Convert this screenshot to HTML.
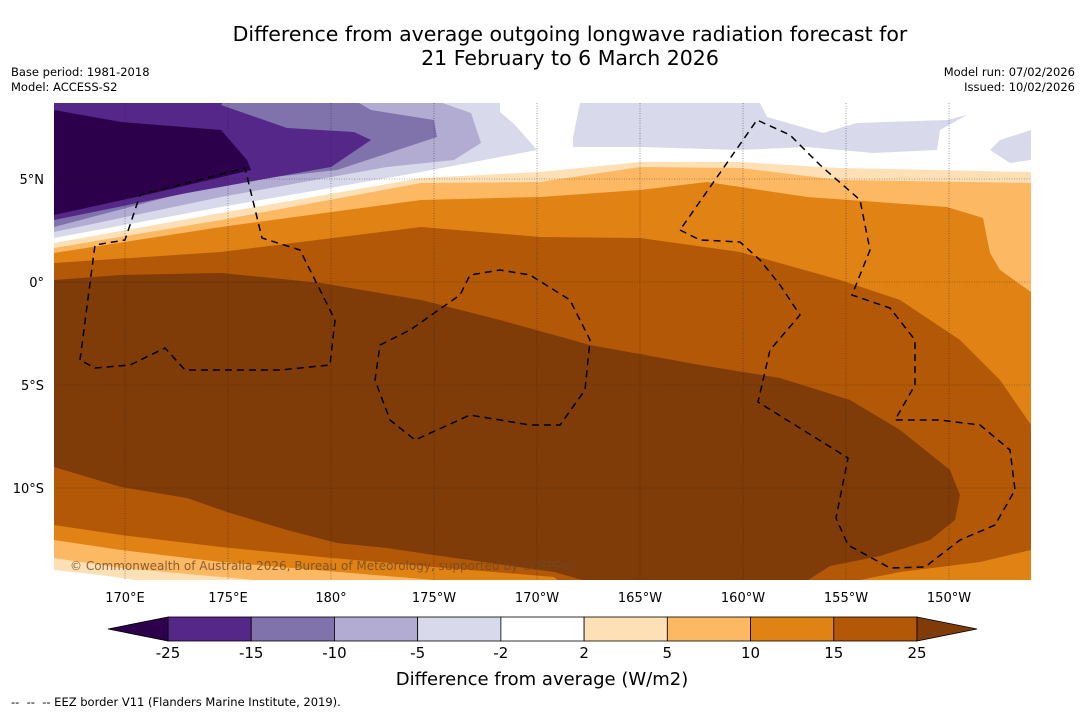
<!DOCTYPE html>
<html><head><meta charset="utf-8"><style>
body{margin:0;background:#fff;font-family:"DejaVu Sans","Liberation Sans",sans-serif;}
#root{position:relative;width:1085px;height:713px;overflow:hidden;background:#fff}
.t{position:absolute;white-space:nowrap;color:#000}
</style></head><body>
<div id="root">
<div class="t" style="left:0;width:1140px;text-align:center;top:22px;font-size:20.5px;line-height:24px">Difference from average outgoing longwave radiation forecast for<br>21 February to 6 March 2026</div>
<div class="t" style="left:11px;top:65px;font-size:11.5px;line-height:15px">Base period: 1981-2018<br>Model: ACCESS-S2</div>
<div class="t" style="right:10px;top:65px;font-size:11.5px;line-height:15px;text-align:right">Model run: 07/02/2026<br>Issued: 10/02/2026</div>
<div class="t" style="left:11px;top:695px;font-size:11.5px">--&nbsp; --&nbsp; -- EEZ border V11 (Flanders Marine Institute, 2019).</div>
<svg id="map" width="1085" height="713" style="position:absolute;left:0;top:0">
<defs><clipPath id="mc"><rect x="54" y="103" width="977" height="477"/></clipPath></defs>
<g clip-path="url(#mc)">
<rect x="54" y="103" width="977" height="477" fill="#b35806"/>
<path fill="#e08214" d="M54,100 L54,263 L221,252 L421,227 L540,237 L640,238 L740,252 L840,280 L900,300 L960,340 L1000,380 L1031,425 L1031,100Z"/>
<path fill="#fdb863" d="M54,100 L54,253 L221,227 L421,200 L540,197 L640,190 L707,182 L807,197 L947,207 L983,218 L990,253 L1000,270 L1031,292 L1031,100Z"/>
<path fill="#fee0b6" d="M54,100 L54,248 L221,220 L421,183 L540,182 L640,167 L740,168 L840,180 L1031,183 L1031,100Z"/>
<path fill="#ffffff" d="M54,100 L54,243 L221,213 L421,178 L540,172 L640,162 L740,162 L840,168 L1031,172 L1031,100Z"/>
<path fill="#d8daeb" d="M54,100 L54,238 L221,207 L421,172 L537,150 L515,125 L500,112 L500,100Z"/>
<path fill="#d8daeb" d="M580,103 L760,103 L767,117 L823,133 L857,123 L947,120 L967,115 L940,130 L937,150 L873,153 L807,147 L740,150 L640,147 L573,147 L573,137Z M990,150 L1000,140 L1031,130 L1031,160 L1010,163Z"/>
<path fill="#b2abd2" d="M54,100 L54,232 L221,197 L387,167 L454,160 L481,143 L471,113 L434,100Z"/>
<path fill="#8073ac" d="M54,100 L54,227 L221,183 L337,170 L437,137 L434,120 L371,110 L354,100Z"/>
<path fill="#542788" d="M54,100 L54,220 L187,193 L331,167 L371,140 L354,132 L287,128 L221,105 L224,100Z"/>
<path fill="#2d004b" d="M54,110 L121,122 L221,130 L247,160 L251,170 L154,193 L54,215Z"/>
<path fill="#7f3b08" d="M54,280 L121,275 L221,273 L321,283 L421,300 L500,320 L590,345 L700,365 L780,378 L850,400 L900,430 L950,470 L960,495 L955,520 L930,540 L880,556 L830,566 L805,582 L590,582 L554,572 L434,555 L387,548 L337,543 L287,530 L227,512 L187,498 L121,487 L54,467Z"/>
<path fill="#e08214" d="M54,525 L121,535 L221,547 L321,557 L434,567 L554,577 L560,582 L54,582Z M850,582 L900,572 L980,562 L1031,550 L1031,582Z"/>
<path fill="#fdb863" d="M54,540 L121,550 L221,562 L434,580 L434,582 L54,582Z"/>
<path fill="#fee0b6" d="M54,558 L121,568 L254,580 L254,582 L54,582Z"/>
<path fill="#ffffff" d="M54,570 L100,575 L150,582 L54,582Z"/>
</g>
<g id="grid" stroke="#222" stroke-width="0.6" stroke-dasharray="1,1.5" opacity="0.7"></g>
<g fill="none" stroke="#000" stroke-width="1.5" stroke-dasharray="7,5" clip-path="url(#mc)">
<path d="M80,360 L95,245 L125,240 L140,195 L245,168 L262,238 L300,250 L325,300 L335,320 L330,365 L280,370 L185,370 L165,348 L130,365 L95,368 Z"/>
<path d="M380,345 L410,330 L460,295 L470,275 L500,270 L530,275 L570,300 L590,340 L585,390 L560,425 L530,425 L470,415 L415,440 L390,420 L375,380 Z"/>
<path d="M680,230 L700,240 L740,242 L760,260 L780,285 L800,315 L770,350 L758,402 L848,458 L836,518 L848,545 L890,568 L925,567 L960,540 L995,525 L1015,490 L1010,450 L980,425 L940,420 L895,420 L915,385 L915,340 L890,308 L852,295 L870,250 L860,200 L820,165 L790,135 L757,120 Z"/>
</g>
<text x="70" y="570" font-size="12" fill="#6b4a2a" opacity="0.8" font-family="DejaVu Sans, sans-serif">© Commonwealth of Australia 2026, Bureau of Meteorology, supported by COSPPac</text>
<g id="axes" font-size="13" font-family="DejaVu Sans, sans-serif"></g>
<g id="cbar"></g>
<text x="542" y="685" font-size="18" text-anchor="middle" font-family="DejaVu Sans, sans-serif">Difference from average (W/m2)</text>
</svg>
</div>
<script>
const lonTicks=[170,175,180,-175,-170,-165,-160,-155,-150];
const lonLabels=["170°E","175°E","180°","175°W","170°W","165°W","160°W","155°W","150°W"];
const latTicks=[5,0,-5,-10];
const latLabels=["5°N","0°","5°S","10°S"];
const levels=[-25,-15,-10,-5,-2,2,5,10,15,25];
const levelColors=["#542788","#8073ac","#b2abd2","#d8daeb","#ffffff","#fee0b6","#fdb863","#e08214","#b35806"];
const extendColors=["#2d004b","#7f3b08"];
const NS="http://www.w3.org/2000/svg";
function lonX(l){const e=l<0?l+360:l;return 125+(e-170)*20.6;}
function latY(l){return 282-l*20.6;}
function mk(t,a,p){const e=document.createElementNS(NS,t);for(const k in a)e.setAttribute(k,a[k]);p.appendChild(e);return e;}
const grid=document.getElementById('grid'),axes=document.getElementById('axes');
lonTicks.forEach((l,i)=>{const x=lonX(l);
 const g=mk('line',{x1:x,x2:x,y1:103,y2:580},grid);
 
 
 const t=mk('text',{x:x,y:602,'text-anchor':'middle'},axes);t.textContent=lonLabels[i];
 
 });
latTicks.forEach((l,i)=>{const y=latY(l);
 const g=mk('line',{x1:54,x2:1031,y1:y,y2:y},grid);
 
 
 const t=mk('text',{x:44,y:y+5,'text-anchor':'end'},axes);t.textContent=latLabels[i];
 
 });
const cb=document.getElementById('cbar');
const cx0=168,cx1=917,cy=617,ch=24,seg=(cx1-cx0)/levelColors.length;
levelColors.forEach((c,i)=>{const r=mk('rect',{x:cx0+i*seg,y:cy,width:seg,height:ch,fill:c,stroke:'#000','stroke-width':0.8},cb);
 
 });
const a1=mk('polygon',{points:`${cx0},${cy} 108,${cy+ch/2} ${cx0},${cy+ch}`,fill:extendColors[0],stroke:'#000','stroke-width':0.8},cb);


const a2=mk('polygon',{points:`${cx1},${cy} 977,${cy+ch/2} ${cx1},${cy+ch}`,fill:extendColors[1],stroke:'#000','stroke-width':0.8},cb);


levels.forEach((v,i)=>{const t=mk('text',{x:cx0+i*seg,y:658,'text-anchor':'middle','font-size':15,'font-family':'DejaVu Sans, sans-serif'},cb);
 t.textContent=v;
 
 });
</script>
</body></html>
